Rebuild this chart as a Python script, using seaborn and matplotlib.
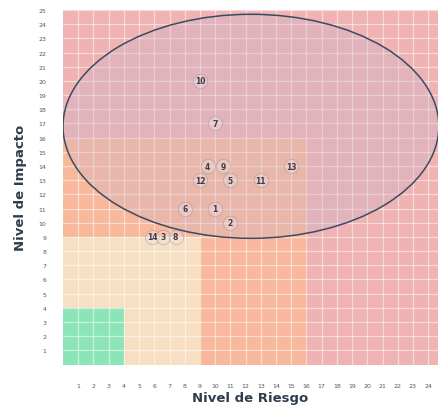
import matplotlib
matplotlib.use('Agg')
import matplotlib.pyplot as plt
from matplotlib.patches import Rectangle, Ellipse
import seaborn as sns
import pandas as pd

# risk items: id, riesgo (x), impacto (y)
risk_ids = ['10', '7', '4', '9', '12', '5', '11', '13', '6', '1', '2', '14', '3', '8']
riesgo = [9, 10, 9.5, 10.5, 9, 11, 13, 15, 8, 10, 11, 5.85, 6.6, 7.4]
impacto = [20, 17, 14, 14, 13, 13, 13, 14, 11, 11, 10, 9, 9, 9]

# zone limits (square from origin) and colours, outermost first
zone_limits = [25, 16, 9, 4]
zone_colors = ['#efb3b3', '#f8b89b', '#f6dfc3', '#8de5b7']

x_ticks = list(range(1, 25))
y_ticks = list(range(1, 26))

# highlighted cluster (ellipse): centre, width, height
ell_center = (12.35, 16.8)
ell_size = (24.7, 15.8)

sns.set_style('white')
plt.rcParams['font.family'] = ['DejaVu Sans']

fig = plt.figure(figsize=(4.39, 4.10), dpi=100)
ax = fig.add_axes([0.1435, 0.1085, 0.8665, 0.8646])

for lim, col in zip(zone_limits, zone_colors):
    ax.add_patch(Rectangle((0, 0), lim, lim, facecolor=col, edgecolor='none', zorder=0.5))

ax.add_patch(Ellipse(ell_center, ell_size[0], ell_size[1], facecolor='#c8b4d0', alpha=0.3,
                     edgecolor='none', zorder=2))
ax.add_patch(Ellipse(ell_center, ell_size[0], ell_size[1], facecolor='none',
                     edgecolor='#3b4b60', linewidth=1.1, zorder=3))

df = pd.DataFrame({'id': risk_ids, 'riesgo': riesgo, 'impacto': impacto})
sns.scatterplot(data=df, x='riesgo', y='impacto', s=105, color='#f3e4e4', alpha=0.35,
                edgecolor='#8a8a8a', linewidth=0.8, ax=ax, zorder=4, legend=False)
for _, r in df.iterrows():
    ax.text(r['riesgo'], r['impacto'], r['id'], ha='center', va='center', fontsize=5.5,
            fontweight='bold', color='#3d3d4d', zorder=5)

ax.set_xlim(0, 25)
ax.set_ylim(0, 25)
ax.set_xticks(x_ticks)
ax.set_yticks(y_ticks)
ax.set_xticklabels([str(t) for t in x_ticks])
ax.set_yticklabels([str(t) for t in y_ticks])
ax.tick_params(axis='both', length=0, labelsize=4.5, labelcolor='#4a5a6a')
ax.tick_params(axis='x', pad=13)
ax.tick_params(axis='y', pad=12)
ax.grid(True, color='#ffffff', alpha=0.5, linewidth=0.9, zorder=1.5)
for s in ax.spines.values():
    s.set_visible(False)

ax.set_xlabel('Nivel de Riesgo', fontsize=9.5, fontweight='bold', color='#2f3d4c')
ax.set_ylabel('Nivel de Impacto', fontsize=9.5, fontweight='bold', color='#2f3d4c', labelpad=8)
ax.xaxis.set_label_coords((250 - 63) / 380.4, -0.075)

fig.savefig('out.png', dpi=100)
